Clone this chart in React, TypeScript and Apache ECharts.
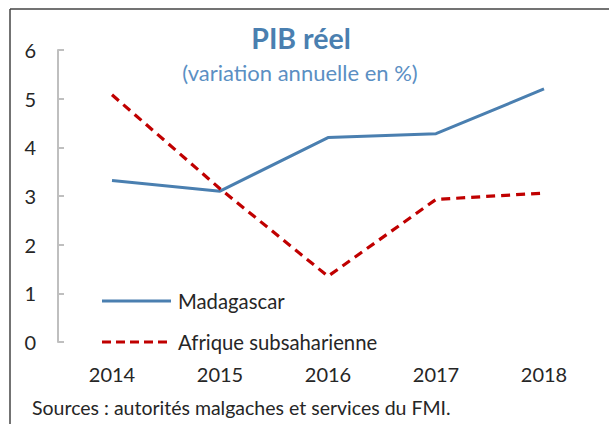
import React, { useEffect, useRef } from "react";
import * as echarts from "echarts";

const years = ["2014", "2015", "2016", "2017", "2018"];
const madagascar = [3.32, 3.1, 4.2, 4.28, 5.2];
const afrique = [5.08, 3.15, 1.35, 2.93, 3.06];
const yTicks = { min: 0, max: 6, interval: 1 };
const seriesNames = ["Madagascar", "Afrique subsaharienne"];
const titleText = "PIB réel";
const subtitleText = "(variation annuelle en %)";
const sourceText = "Sources : autorités malgaches et services du FMI.";

const FONT = "Lato, 'Noto Sans', sans-serif";
const BLUE = "#4a7fb0";
const RED = "#c00000";

export default function App() {
  const ref = useRef<HTMLDivElement>(null);
  useEffect(() => {
    if (!ref.current) return;
    const chart = echarts.init(ref.current, undefined, { renderer: "svg" });
    chart.setOption({
      animation: false,
      backgroundColor: "#ffffff",
      textStyle: { fontFamily: FONT },
      grid: { left: 58, right: 11, top: 50, bottom: 82, containLabel: false },
      xAxis: {
        type: "category",
        data: years,
        boundaryGap: true,
        axisLine: { show: false },
        axisTick: { show: false },
        axisLabel: { fontFamily: FONT, fontSize: 20, color: "#262626", margin: 22 },
      },
      yAxis: {
        type: "value",
        min: yTicks.min,
        max: yTicks.max,
        interval: yTicks.interval,
        splitLine: { show: false },
        axisLine: { show: true, lineStyle: { color: "#bfbfbf", width: 2 } },
        axisTick: { show: true, inside: true, length: 6, lineStyle: { color: "#bfbfbf", width: 2 } },
        axisLabel: { fontFamily: FONT, fontSize: 20, color: "#262626", margin: 22 },
      },
      series: [
        {
          name: seriesNames[0],
          type: "line",
          data: madagascar,
          symbol: "none",
          lineStyle: { color: BLUE, width: 3 },
        },
        {
          name: seriesNames[1],
          type: "line",
          data: afrique,
          symbol: "none",
          lineStyle: { color: RED, width: 3.2, type: [9, 6] },
        },
      ],
      graphic: [
        { type: "line", shape: { x1: 10, y1: 9, x2: 609, y2: 9 }, style: { stroke: "#444", lineWidth: 1.5 } },
        { type: "line", shape: { x1: 10, y1: 9, x2: 10, y2: 424 }, style: { stroke: "#444", lineWidth: 1.5 } },
        {
          type: "text",
          x: 301,
          y: 38,
          style: { text: titleText, fontFamily: FONT, fontSize: 28.5, fontWeight: "bold", fill: BLUE, align: "center", verticalAlign: "middle" },
        },
        {
          type: "text",
          x: 300,
          y: 72,
          style: { text: subtitleText, fontFamily: FONT, fontSize: 22, fill: "#5b8fc3", align: "center", verticalAlign: "middle" },
        },
        { type: "line", shape: { x1: 102, y1: 301, x2: 171, y2: 301 }, style: { stroke: BLUE, lineWidth: 3 } },
        {
          type: "text",
          x: 178,
          y: 301,
          style: { text: seriesNames[0], fontFamily: FONT, fontSize: 20.3, fill: "#262626", verticalAlign: "middle" },
        },
        { type: "line", shape: { x1: 102, y1: 342, x2: 171, y2: 342 }, style: { stroke: RED, lineWidth: 3.2, lineDash: [9, 5] } },
        {
          type: "text",
          x: 178,
          y: 342,
          style: { text: seriesNames[1], fontFamily: FONT, fontSize: 20.3, fill: "#262626", verticalAlign: "middle" },
        },
        {
          type: "text",
          x: 32,
          y: 407,
          style: { text: sourceText, fontFamily: FONT, fontSize: 19.5, fill: "#262626", verticalAlign: "middle" },
        },
      ],
    });
    return () => chart.dispose();
  }, []);
  return (
    <div
      ref={ref}
      style={{ position: "fixed", left: 0, top: 0, width: 609, height: 424 }}
    />
  );
}
